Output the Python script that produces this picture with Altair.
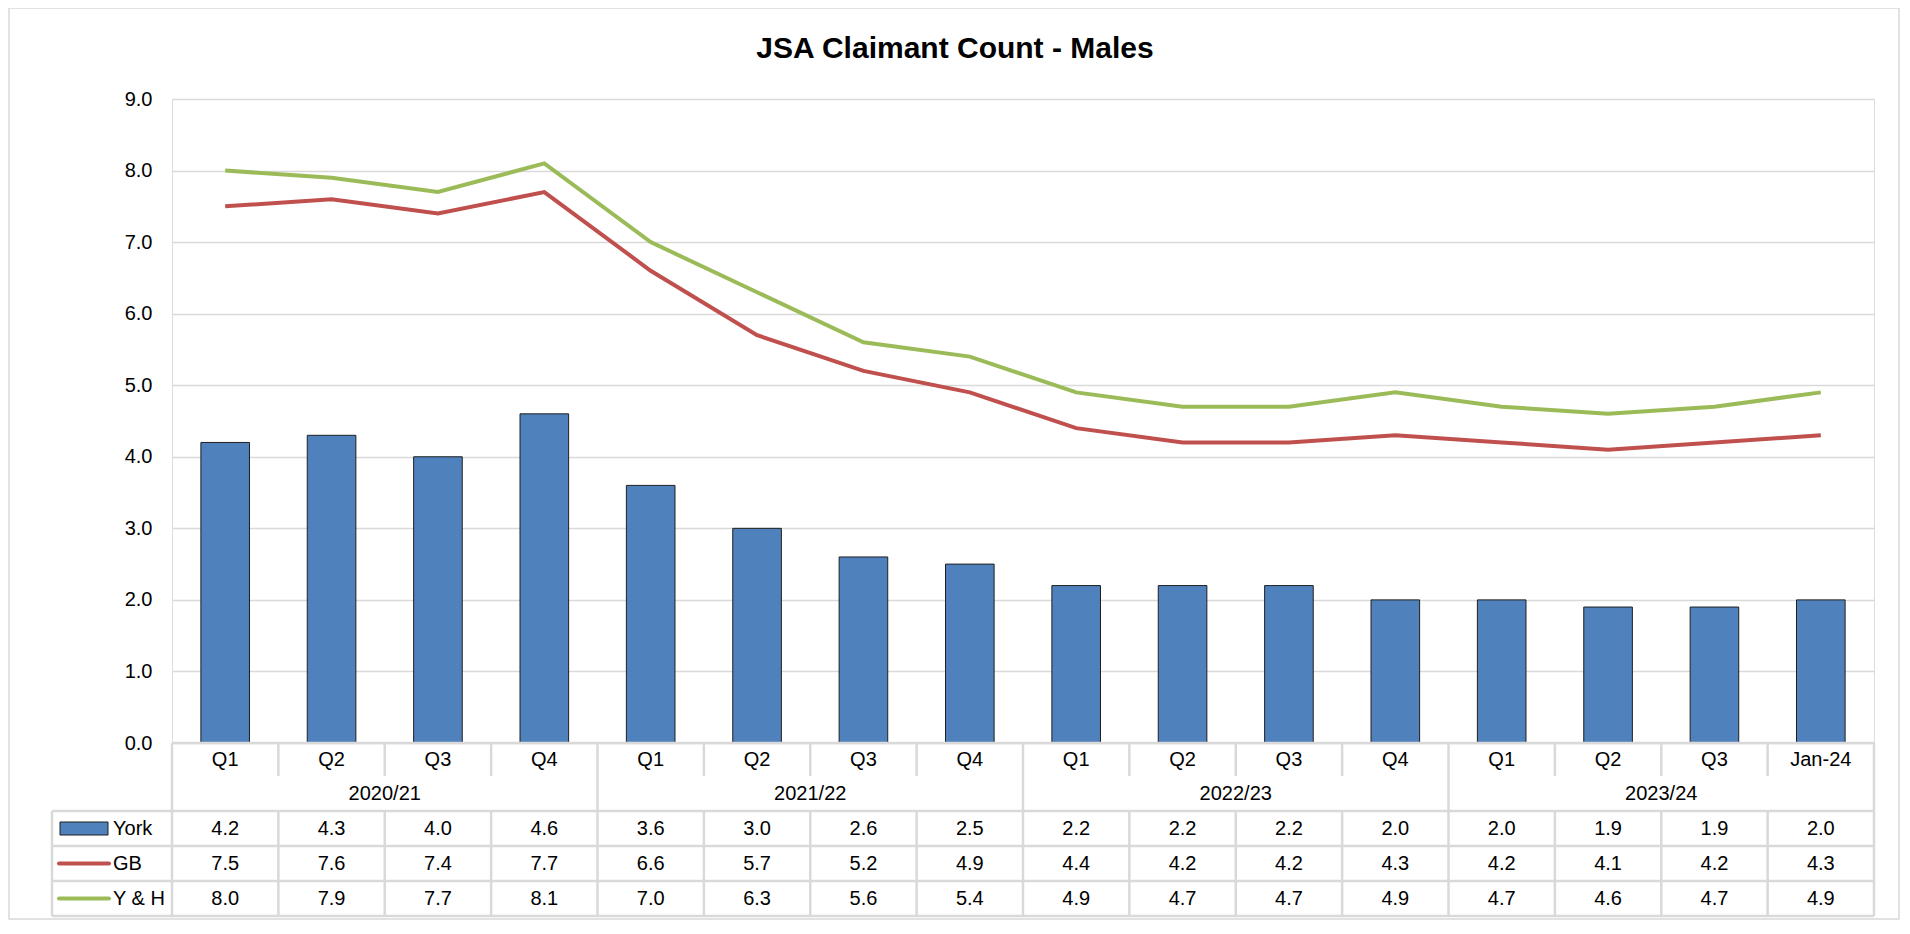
import altair as alt
import pandas as pd

# ---- data ----
quarters = ["Q1", "Q2", "Q3", "Q4", "Q1", "Q2", "Q3", "Q4",
            "Q1", "Q2", "Q3", "Q4", "Q1", "Q2", "Q3", "Jan-24"]
years = ["2020/21", "2021/22", "2022/23", "2023/24"]
york = [4.2, 4.3, 4.0, 4.6, 3.6, 3.0, 2.6, 2.5, 2.2, 2.2, 2.2, 2.0, 2.0, 1.9, 1.9, 2.0]
gb = [7.5, 7.6, 7.4, 7.7, 6.6, 5.7, 5.2, 4.9, 4.4, 4.2, 4.2, 4.3, 4.2, 4.1, 4.2, 4.3]
yh = [8.0, 7.9, 7.7, 8.1, 7.0, 6.3, 5.6, 5.4, 4.9, 4.7, 4.7, 4.9, 4.7, 4.6, 4.7, 4.9]
y_ticks = [0, 1, 2, 3, 4, 5, 6, 7, 8, 9]
title_text = "JSA Claimant Count - Males"
series_names = ["York", "GB", "Y & H"]

year_of = [years[i // 4] for i in range(len(quarters))]
keys = [f"{y} {q}" for y, q in zip(year_of, quarters)]
df = pd.DataFrame({
    "key": keys, "quarter": quarters, "year": year_of,
    "york": york, "gb": gb, "yh": yh,
    "first": [i % 4 == 0 for i in range(len(quarters))],
    "second": [i % 4 == 1 for i in range(len(quarters))],
})

# ---- layout ----
W, H = 1702, 644
FONT = "Liberation Sans"
FS = 20
GRID = "#D9D9D9"
BLUE, RED, GREEN = "#4F81BD", "#C0504D", "#9BBB59"
ROW_Q = (H, H + 33)
ROW_Y = (H + 33, H + 68)
ROW_1 = (H + 68, H + 103)
ROW_2 = (H + 103, H + 138)
ROW_3 = (H + 138, H + 173)
LEG_L = -120

xscale = alt.Scale(paddingInner=0, paddingOuter=0)
X = alt.X("key:N", sort=keys, scale=xscale, axis=None)

base = alt.Chart(df)
one = alt.Chart(pd.DataFrame({"d": [0]}))

bars = base.mark_bar(width=alt.RelativeBandSize(0.457), color=BLUE,
                     stroke="#1F1F1F", strokeWidth=1).encode(
    x=X,
    y=alt.Y("york:Q", scale=alt.Scale(domain=[0, 9], nice=False),
            axis=alt.Axis(values=y_ticks, format=".1f", title=None, ticks=False,
                          domain=False, labelFontSize=FS, labelFont=FONT,
                          labelColor="#000000", labelPadding=20,
                          grid=True, gridColor=GRID, gridWidth=1.5)),
)

line_gb = base.mark_line(color=RED, strokeWidth=4).encode(
    x=alt.X("key:N", sort=keys, scale=xscale, axis=None, bandPosition=0.5),
    y=alt.Y("gb:Q"))
line_yh = base.mark_line(color=GREEN, strokeWidth=4).encode(
    x=alt.X("key:N", sort=keys, scale=xscale, axis=None, bandPosition=0.5),
    y=alt.Y("yh:Q"))

def txt(**kw):
    return dict(font=FONT, fontSize=FS, color="#000000", baseline="middle", **kw)

def mid(r):
    return (r[0] + r[1]) / 2

q_labels = base.mark_text(**txt(align="center")).encode(
    x=alt.X("key:N", sort=keys, scale=xscale, axis=None, bandPosition=0.5),
    y=alt.value(mid(ROW_Q)), text="quarter:N")
y_labels = base.transform_filter("datum.second").mark_text(**txt(align="center")).encode(
    x=alt.X("key:N", sort=keys, scale=xscale, axis=None, bandPosition=1),
    y=alt.value(mid(ROW_Y)), text="year:N")

row_layers = []
for field, row in [("york", ROW_1), ("gb", ROW_2), ("yh", ROW_3)]:
    row_layers.append(base.mark_text(**txt(align="center")).encode(
        x=alt.X("key:N", sort=keys, scale=xscale, axis=None, bandPosition=0.5),
        y=alt.value(mid(row)), text=alt.Text(f"{field}:Q", format=".1f")))

# table rules
rules = []
RW = 2.5
rules.append(base.mark_rule(color=GRID, strokeWidth=RW).encode(
    x=alt.X("key:N", sort=keys, scale=xscale, axis=None, bandPosition=0),
    y=alt.value(ROW_Q[0]), y2=alt.value(ROW_Q[1])))
rules.append(base.mark_rule(color=GRID, strokeWidth=RW).encode(
    x=alt.X("key:N", sort=keys, scale=xscale, axis=None, bandPosition=0),
    y=alt.value(ROW_1[0]), y2=alt.value(ROW_3[1])))
rules.append(base.transform_filter("datum.first").mark_rule(color=GRID, strokeWidth=RW).encode(
    x=alt.X("key:N", sort=keys, scale=xscale, axis=None, bandPosition=0),
    y=alt.value(ROW_Y[0]), y2=alt.value(ROW_Y[1])))
rules.append(one.mark_rule(color=GRID, strokeWidth=RW).encode(
    x=alt.value(W), y=alt.value(ROW_Q[0]), y2=alt.value(ROW_3[1])))
rules.append(one.mark_rule(color=GRID, strokeWidth=RW).encode(
    x=alt.value(LEG_L), y=alt.value(ROW_1[0]), y2=alt.value(ROW_3[1])))
rules.append(one.mark_rule(color=GRID, strokeWidth=RW).encode(
    x=alt.value(0), x2=alt.value(W), y=alt.value(ROW_Q[0])))
for yy in [ROW_1[0], ROW_2[0], ROW_3[0], ROW_3[1]]:
    rules.append(one.mark_rule(color=GRID, strokeWidth=RW).encode(
        x=alt.value(LEG_L), x2=alt.value(W), y=alt.value(yy)))

# legend column
leg = [
    one.mark_rect(color=BLUE, stroke="#1F1F1F", strokeWidth=1).encode(
        x=alt.value(-112), x2=alt.value(-64),
        y=alt.value(mid(ROW_1) - 6.5), y2=alt.value(mid(ROW_1) + 6.5)),
    one.mark_rule(color=RED, strokeWidth=4, strokeCap="round").encode(
        x=alt.value(-113), x2=alt.value(-63), y=alt.value(mid(ROW_2))),
    one.mark_rule(color=GREEN, strokeWidth=4, strokeCap="round").encode(
        x=alt.value(-113), x2=alt.value(-63), y=alt.value(mid(ROW_3))),
]
for name, row in zip(series_names, [ROW_1, ROW_2, ROW_3]):
    leg.append(one.mark_text(**txt(align="left"), text=name).encode(
        x=alt.value(-59), y=alt.value(mid(row))))

title = one.mark_text(font=FONT, fontSize=30, fontWeight="bold", color="#000000",
                      align="center", baseline="middle", text=title_text).encode(
    x=alt.value(783), y=alt.value(-50))

border = one.mark_rect(fillOpacity=0, stroke=GRID, strokeWidth=1.5).encode(
    x=alt.value(-163), x2=alt.value(1727), y=alt.value(-91), y2=alt.value(H + 176))

chart = alt.layer(
    border, bars, *rules, line_gb, line_yh, q_labels, y_labels, *row_layers, *leg, title
).properties(
    width=W, height=H,
    autosize=alt.AutoSizeParams(type="none"),
    padding={"left": 164, "top": 91, "right": 26, "bottom": 177},
).configure_view(stroke=None).configure(background="white")

chart.save("out.html", embed_options={"renderer": "svg", "actions": False})
